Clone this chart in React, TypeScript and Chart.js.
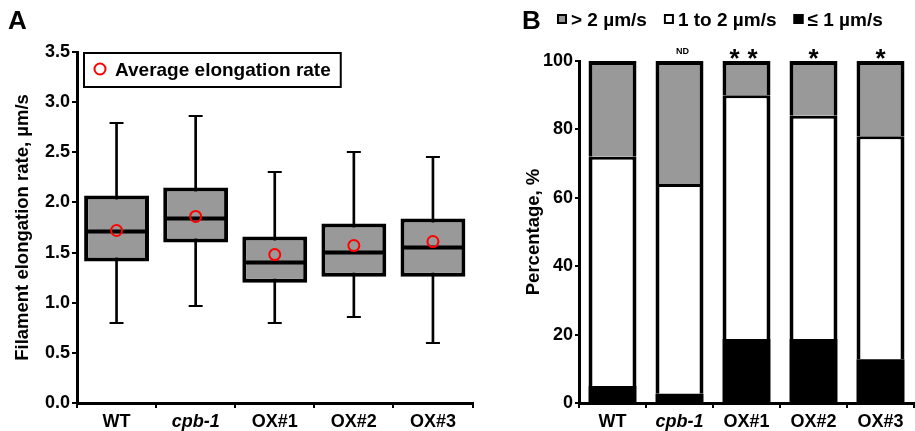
import React, { useEffect, useRef } from 'react';
import { Chart, registerables } from 'chart.js';

Chart.register(...registerables);

const FONT = '"Liberation Sans", Arial, Helvetica, sans-serif';

// ---------- Panel A data ----------
const categories = ['WT', 'cpb-1', 'OX#1', 'OX#2', 'OX#3'];
const whiskerMin = [0.8, 0.97, 0.8, 0.86, 0.6];
const q1 = [1.41, 1.6, 1.2, 1.26, 1.26];
const median = [1.71, 1.84, 1.4, 1.5, 1.55];
const q3 = [2.07, 2.15, 1.66, 1.79, 1.84];
const whiskerMax = [2.79, 2.86, 2.3, 2.5, 2.45];
const meanRate = [1.72, 1.86, 1.48, 1.57, 1.61];
const yTicksA = [0, 0.5, 1.0, 1.5, 2.0, 2.5, 3.0, 3.5];

// ---------- Panel B data ----------
const lowPct = [5, 2.7, 18.7, 18.7, 12.8];
const midPct = [67, 61.3, 71.3, 65.3, 65.2];
const highPct = [28, 36, 10, 16, 22];
const significance = ['', 'ND', '**', '*', '*'];
const yTicksB = [0, 20, 40, 60, 80, 100];
const legendB = ['> 2 µm/s', '1 to 2 µm/s', '≤ 1 µm/s'];
const legendBColors = ['#999999', '#ffffff', '#000000'];

const GRAY = '#999999';

const tickFont = (ctx: any) => ({
  family: FONT,
  size: 18,
  weight: 'bold' as const,
  style: (ctx && ctx.index === 1 ? 'italic' : 'normal') as any,
});

const boxExtras = {
  id: 'boxExtras',
  afterDatasetDraw(chart: any, args: any) {
    if (args.index !== 1) return;
    const { ctx } = chart;
    const x = chart.scales.x;
    const y = chart.scales.y;
    const meta = chart.getDatasetMeta(1);
    ctx.save();
    ctx.strokeStyle = '#000';
    categories.forEach((_, i) => {
      const cx = x.getPixelForValue(i);
      const half = meta.data[i].width / 2;
      ctx.lineWidth = 4;
      ctx.beginPath();
      const my = y.getPixelForValue(median[i]);
      ctx.moveTo(cx - half + 2, my);
      ctx.lineTo(cx + half - 2, my);
      ctx.stroke();
      ctx.lineWidth = 2;
      [whiskerMin[i], whiskerMax[i]].forEach((v) => {
        const py = Math.round(y.getPixelForValue(v));
        ctx.beginPath();
        ctx.moveTo(cx - 7, py);
        ctx.lineTo(cx + 7, py);
        ctx.stroke();
      });
    });
    ctx.restore();
  },
  afterDraw(chart: any) {
    const { ctx, chartArea } = chart;
    ctx.save();
    ctx.fillStyle = '#000';
    ctx.font = `bold 26px ${FONT}`;
    ctx.textBaseline = 'alphabetic';
    ctx.textAlign = 'left';
    ctx.fillText('A', 8, 29);
    ctx.font = `bold 19px ${FONT}`;
    const label = 'Average elongation rate';
    const tw = ctx.measureText(label).width;
    const left = chartArea.left + 7;
    const top = chartArea.top;
    const textX = left + 31;
    const right = textX + tw + 10;
    ctx.lineWidth = 2;
    ctx.strokeStyle = '#000';
    ctx.strokeRect(left, top + 1, right - left, 34);
    ctx.beginPath();
    ctx.arc(left + 16, top + 17, 5.5, 0, Math.PI * 2);
    ctx.strokeStyle = '#ff0000';
    ctx.stroke();
    ctx.fillText(label, textX, top + 24);
    ctx.restore();
  },
};

const barExtras = {
  id: 'barExtras',
  afterDatasetsDraw(chart: any) {
    const { ctx } = chart;
    const x = chart.scales.x;
    const y = chart.scales.y;
    const yTop = y.getPixelForValue(100);
    ctx.save();
    ctx.fillStyle = '#000';
    ctx.textAlign = 'center';
    ctx.textBaseline = 'alphabetic';
    significance.forEach((s, i) => {
      if (!s) return;
      const cx = x.getPixelForValue(i);
      if (s === 'ND') {
        ctx.font = `bold 9px ${FONT}`;
        ctx.fillText(s, cx + 3, yTop - 7);
      } else {
        ctx.font = `bold 26px ${FONT}`;
        if (s.length > 1) {
          try { (ctx as any).letterSpacing = '8px'; } catch (e) { /* ignore */ }
          ctx.fillText(s, cx + 1, yTop + 6);
          try { (ctx as any).letterSpacing = '0px'; } catch (e) { /* ignore */ }
        } else {
          ctx.fillText(s, cx, yTop + 6);
        }
      }
    });
    ctx.restore();
  },
  afterDraw(chart: any) {
    const { ctx } = chart;
    ctx.save();
    ctx.fillStyle = '#000';
    ctx.textAlign = 'left';
    ctx.textBaseline = 'alphabetic';
    ctx.font = `bold 26px ${FONT}`;
    ctx.fillText('B', 22, 29);
    ctx.font = `bold 19px ${FONT}`;
    let xPos = 57;
    legendB.forEach((t, i) => {
      ctx.fillStyle = legendBColors[i];
      ctx.fillRect(xPos, 14, 10, 10);
      ctx.strokeStyle = '#000';
      ctx.lineWidth = 2;
      ctx.strokeRect(xPos + 1, 15, 8, 8);
      ctx.fillStyle = '#000';
      ctx.fillText(t, xPos + 14, 26);
      xPos += 14 + ctx.measureText(t).width + 17;
    });
    ctx.restore();
  },
};

const axisCommon = {
  grid: {
    display: true,
    drawOnChartArea: false,
    drawTicks: true,
    color: '#000',
    lineWidth: 2,
  },
  border: { display: true, color: '#000', width: 3 },
};

export default function App() {
  const refA = useRef<HTMLCanvasElement>(null);
  const refB = useRef<HTMLCanvasElement>(null);

  useEffect(() => {
    Chart.defaults.font.family = FONT;
    Chart.defaults.color = '#000';

    const chartA = new Chart(refA.current as HTMLCanvasElement, {
      type: 'bar',
      data: {
        labels: categories,
        datasets: [
          {
            label: 'whisker',
            data: categories.map((_, i) => [whiskerMin[i], whiskerMax[i]]) as any,
            backgroundColor: '#000',
            borderWidth: 0,
            barThickness: 2,
            grouped: false,
            order: 3,
          } as any,
          {
            label: 'box',
            data: categories.map((_, i) => [q1[i], q3[i]]) as any,
            backgroundColor: GRAY,
            borderColor: '#000',
            borderWidth: 4,
            borderSkipped: false,
            barPercentage: 0.82,
            categoryPercentage: 1,
            grouped: false,
            order: 2,
          } as any,
          {
            type: 'line',
            label: 'Average elongation rate',
            data: meanRate,
            showLine: false,
            pointRadius: 5.5,
            pointBorderWidth: 2,
            pointBorderColor: '#ff0000',
            pointBackgroundColor: 'rgba(0,0,0,0)',
            order: 1,
          } as any,
        ],
      },
      options: {
        responsive: false,
        animation: false,
        layout: { padding: { left: 0, right: 7, top: 52, bottom: 0 } },
        plugins: { legend: { display: false }, tooltip: { enabled: false } },
        scales: {
          x: {
            ...axisCommon,
            grid: { ...axisCommon.grid, tickLength: 5, offset: true },
            ticks: { font: tickFont, color: '#000', padding: 3 },
            afterFit: (s: any) => { s.height = 28; },
          } as any,
          y: {
            ...axisCommon,
            min: 0,
            max: 3.5,
            grid: { ...axisCommon.grid, tickLength: 5 },
            afterBuildTicks: (s: any) => { s.ticks = yTicksA.map((v) => ({ value: v })); },
            ticks: {
              font: { family: FONT, size: 18, weight: 'bold' },
              color: '#000',
              padding: 2,
              callback: (v: any) => Number(v).toFixed(1),
            },
            title: {
              display: true,
              text: 'Filament elongation rate, µm/s',
              font: { family: FONT, size: 18.5, weight: 'bold' },
              color: '#000',
              padding: { top: 12, bottom: 0 },
            },
            afterFit: (s: any) => { s.width = 77; },
          } as any,
        },
      },
      plugins: [boxExtras],
    });

    const chartB = new Chart(refB.current as HTMLCanvasElement, {
      type: 'bar',
      data: {
        labels: categories,
        datasets: [
          {
            label: '≤ 1 µm/s',
            data: lowPct,
            backgroundColor: '#000',
            borderColor: '#000',
            borderWidth: 0,
            barPercentage: 0.716,
            categoryPercentage: 1,
          },
          {
            label: '1 to 2 µm/s',
            data: midPct,
            backgroundColor: '#fff',
            borderColor: '#000',
            borderWidth: { left: 4, right: 4, top: 3, bottom: 0 },
            borderSkipped: false,
            barPercentage: 0.716,
            categoryPercentage: 1,
          } as any,
          {
            label: '> 2 µm/s',
            data: highPct,
            backgroundColor: GRAY,
            borderColor: '#000',
            borderWidth: { left: 4, right: 4, top: 4, bottom: 0 },
            borderSkipped: false,
            barPercentage: 0.716,
            categoryPercentage: 1,
          } as any,
        ],
      },
      options: {
        responsive: false,
        animation: false,
        layout: { padding: { left: 0, right: 1, top: 61, bottom: 0 } },
        plugins: { legend: { display: false }, tooltip: { enabled: false } },
        scales: {
          x: {
            ...axisCommon,
            stacked: true,
            grid: { ...axisCommon.grid, tickLength: 5, offset: true },
            ticks: { font: tickFont, color: '#000', padding: 3 },
            afterFit: (s: any) => { s.height = 28; },
          } as any,
          y: {
            ...axisCommon,
            stacked: true,
            min: 0,
            max: 100,
            grid: { ...axisCommon.grid, tickLength: 4 },
            afterBuildTicks: (s: any) => { s.ticks = yTicksB.map((v) => ({ value: v })); },
            ticks: {
              font: { family: FONT, size: 18, weight: 'bold' },
              color: '#000',
              padding: 2,
            },
            title: {
              display: true,
              text: 'Percentage, %',
              font: { family: FONT, size: 18.5, weight: 'bold' },
              color: '#000',
              padding: { top: 23, bottom: 0 },
            },
            afterFit: (s: any) => { s.width = 79; },
          } as any,
        },
      },
      plugins: [barExtras],
    });

    return () => {
      chartA.destroy();
      chartB.destroy();
    };
  }, []);

  return (
    <div style={{ position: 'absolute', left: 0, top: 0, width: 915, height: 431, background: '#fff', overflow: 'hidden' }}>
      <canvas ref={refA} width={480} height={431} style={{ position: 'absolute', left: 0, top: 0, width: 480, height: 431 }} />
      <canvas ref={refB} width={415} height={431} style={{ position: 'absolute', left: 500, top: 0, width: 415, height: 431 }} />
    </div>
  );
}
